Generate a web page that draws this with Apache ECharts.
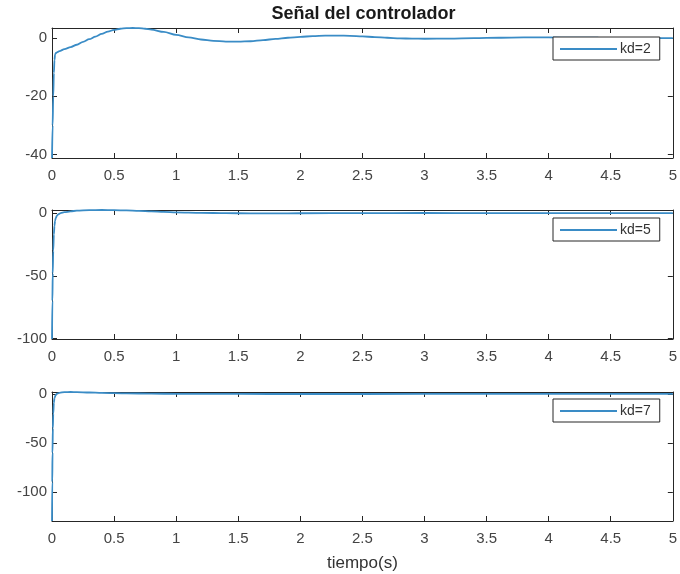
<!DOCTYPE html>
<html>
<head>
<meta charset="utf-8">
<script src="https://cdn.jsdelivr.net/npm/echarts@6/dist/echarts.min.js"></script>
<style>
  html, body { margin: 0; padding: 0; background: #fff; }
  #chart { width: 680px; height: 574px; }
</style>
</head>
<body>
<div id="chart"></div>
<script>
// Controller signal u(t) for three derivative gains
const titleText = 'Señal del controlador';
const xLabel = 'tiempo(s)';
const xTicks = { min: 0, max: 5, step: 0.5 };

// kd = 2
const tKd2 = [0, 0.005, 0.01, 0.015, 0.02, 0.025, 0.03, 0.04, 0.06, 0.1, 0.15, 0.2, 0.25, 0.3, 0.35, 0.4, 0.45, 0.5, 0.55, 0.6, 0.65, 0.7, 0.75, 0.8, 0.9, 1.0, 1.1, 1.2, 1.3, 1.4, 1.5, 1.6, 1.7, 1.8, 1.9, 2.0, 2.1, 2.2, 2.3, 2.4, 2.5, 2.6, 2.7, 2.8, 2.9, 3.0, 3.2, 3.4, 3.6, 3.8, 4.0, 4.2, 4.4, 4.6, 4.8, 5.0];
const uKd2 = [-41.2, -30, -20, -12, -7.5, -5.6, -5.2, -4.9, -4.5, -3.8, -3.1, -2.3, -1.3, -0.4, 0.5, 1.4, 2.2, 2.8, 3.2, 3.4, 3.45, 3.4, 3.2, 2.9, 2.1, 1.1, 0.2, -0.5, -0.95, -1.2, -1.25, -1.1, -0.7, -0.3, 0.1, 0.4, 0.65, 0.8, 0.85, 0.75, 0.55, 0.35, 0.1, -0.1, -0.2, -0.25, -0.2, -0.05, 0.1, 0.2, 0.2, 0.15, 0.1, 0.0, -0.05, -0.05];

// kd = 5
const tKd5 = [0, 0.003, 0.006, 0.01, 0.015, 0.02, 0.025, 0.03, 0.04, 0.05, 0.07, 0.1, 0.15, 0.2, 0.3, 0.4, 0.5, 0.6, 0.7, 0.8, 0.9, 1.0, 1.2, 1.4, 1.6, 1.8, 2.0, 2.5, 3.0, 3.5, 4.0, 4.5, 5.0];
const uKd5 = [-100.3, -70, -48, -30, -17, -10, -6, -4, -2, -1, 0, 0.7, 1.4, 1.9, 2.3, 2.45, 2.3, 2.1, 1.7, 1.3, 0.9, 0.6, 0.2, -0.1, -0.2, -0.2, -0.15, 0, 0.05, 0.02, 0, 0, 0];

// kd = 7
const tKd7 = [0, 0.002, 0.004, 0.007, 0.01, 0.015, 0.02, 0.03, 0.04, 0.06, 0.1, 0.15, 0.2, 0.3, 0.4, 0.6, 0.8, 1.0, 1.5, 2.0, 3.0, 4.0, 5.0];
const uKd7 = [-129.6, -90, -60, -35, -20, -9, -4, -1, 0.2, 1.2, 1.9, 2.0, 1.9, 1.5, 1.1, 0.6, 0.3, 0.1, 0, -0.05, 0, 0, 0];

const seriesNames = ['kd=2', 'kd=5', 'kd=7'];
const yStep = [20, 50, 50];

const panels = [
  { name: seriesNames[0], t: tKd2, u: uKd2, step: yStep[0] },
  { name: seriesNames[1], t: tKd5, u: uKd5, step: yStep[1] },
  { name: seriesNames[2], t: tKd7, u: uKd7, step: yStep[2] }
];

const FONT = "'Liberation Sans', Arial, Helvetica, sans-serif";
const AXIS = '#262626';
const LABEL = '#444444';
const LINE = '#3a8cc6';

const gridTops = [28, 210, 392];
const gridHeights = [130, 129, 129];
const legendTops = [37, 218, 399];

const grids = [], xAxes = [], yAxes = [], series = [], legends = [];

panels.forEach((p, i) => {
  grids.push({ left: 52, width: 623, top: gridTops[i], height: gridHeights[i], containLabel: false });

  const xBase = {
    gridIndex: i, type: 'value', min: xTicks.min, max: xTicks.max, interval: xTicks.step,
    axisLine: { show: true, onZero: false, lineStyle: { color: AXIS, width: 1 } },
    axisTick: { show: true, inside: true, length: 5, lineStyle: { color: AXIS, width: 1 } },
    splitLine: { show: false }
  };
  xAxes.push(Object.assign({}, xBase, {
    position: 'bottom',
    axisLabel: { show: true, margin: 10, color: LABEL, fontSize: 15, fontFamily: FONT,
      showMinLabel: true, showMaxLabel: true, hideOverlap: false },
    name: i === 2 ? xLabel : '',
    nameLocation: 'middle', nameGap: 34,
    nameTextStyle: { color: '#333333', fontSize: 17, fontFamily: FONT }
  }));
  xAxes.push(Object.assign({}, xBase, { position: 'top', axisLabel: { show: false } }));

  const yMin = Math.min(...p.u), yMax = Math.max(...p.u);
  const step = p.step;
  const yBase = {
    gridIndex: i, type: 'value', min: yMin, max: yMax, splitNumber: 2,
    minInterval: step, maxInterval: step,
    axisLine: { show: true, onZero: false, lineStyle: { color: AXIS, width: 1 } },
    axisTick: { show: true, inside: true, length: 5, lineStyle: { color: AXIS, width: 1 } },
    splitLine: { show: false }
  };
  yAxes.push(Object.assign({}, yBase, {
    position: 'left',
    axisLabel: {
      show: true, margin: 5, color: LABEL, fontSize: 15, fontFamily: FONT,
      showMinLabel: true, showMaxLabel: true, hideOverlap: false,
      formatter: v => (Math.abs(v - Math.round(v / step) * step) < 1e-6 ? String(Math.round(v)) : '')
    }
  }));
  yAxes.push(Object.assign({}, yBase, { position: 'right', axisLabel: { show: false } }));

  series.push({
    name: p.name, type: 'line', xAxisIndex: 2 * i, yAxisIndex: 2 * i,
    data: p.t.map((t, k) => [t, p.u[k]]),
    showSymbol: false, symbol: 'none', smooth: 0.3, smoothMonotone: 'x', clip: false,
    lineStyle: { color: LINE, width: 1.8 }, itemStyle: { color: LINE }, z: 3
  });

  legends.push({
    data: [p.name], left: 553, top: legendTops[i], orient: 'horizontal',
    icon: 'rect', itemWidth: 57, itemHeight: 2, itemGap: 0,
    padding: [5, 9, 4, 7], backgroundColor: '#fff', borderColor: AXIS, borderWidth: 1, borderRadius: 0,
    selectedMode: false,
    textStyle: { color: '#333333', fontSize: 14, fontFamily: FONT, padding: [0, 0, 0, -2] }
  });
});

const chart = echarts.init(document.getElementById('chart'), null, { renderer: 'canvas' });
chart.setOption({
  animation: false,
  backgroundColor: '#fff',
  grid: grids,
  xAxis: xAxes,
  yAxis: yAxes,
  legend: legends,
  series: series,
  graphic: [{
    type: 'text', x: 363.5, y: 14,
    style: { text: titleText, align: 'center', verticalAlign: 'middle',
      font: 'bold 18px ' + FONT, fill: '#1a1a1a' }
  }]
});
</script>
</body>
</html>
